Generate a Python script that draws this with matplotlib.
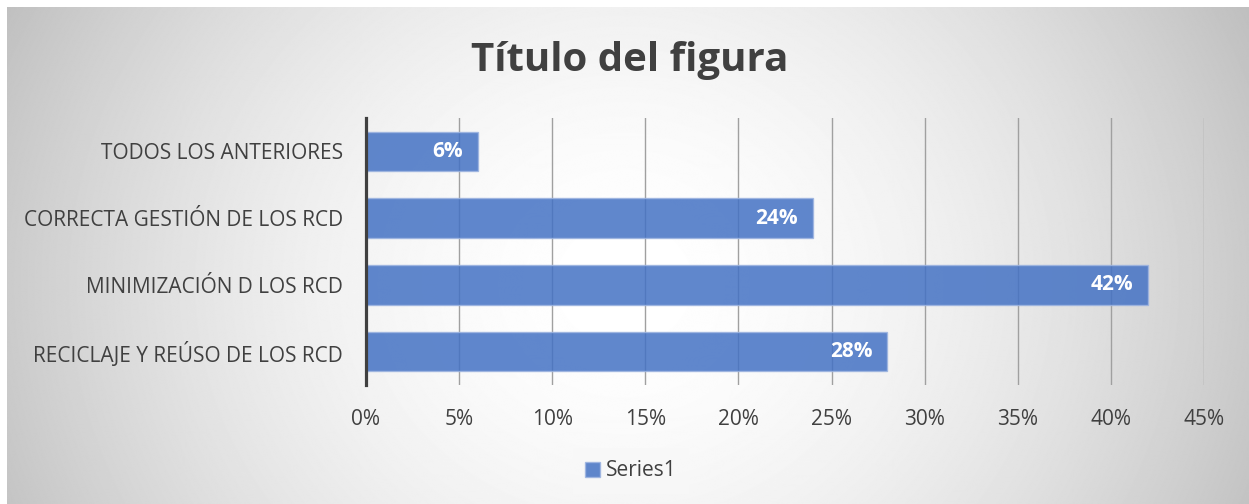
import numpy as np
import matplotlib
matplotlib.use("Agg")
from matplotlib import pyplot as plt
from matplotlib.patches import Patch

categories = ["RECICLAJE Y REÚSO DE LOS RCD", "MINIMIZACIÓN D LOS RCD",
              "CORRECTA GESTIÓN DE LOS RCD", "TODOS LOS ANTERIORES"]
values = [0.28, 0.42, 0.24, 0.06]
xticks = [0, 0.05, 0.10, 0.15, 0.20, 0.25, 0.30, 0.35, 0.40, 0.45]

plt.rcParams['font.family'] = ['Open Sans', 'DejaVu Sans']
text_col = "#404040"
bar_col = "#4472C4"

W, H = 1249, 504
fig = plt.figure(figsize=(W / 100, H / 100), dpi=100)

# radial gradient background
bg = fig.add_axes([7 / W, 0, 1 - 7 / W, 1 - 7 / H], zorder=-10)
yy, xx = np.mgrid[0:H, 0:W]
r = np.sqrt((xx - 620) ** 2 + ((yy - 280) * 1.1) ** 2) / 680
gray = 1 - 0.24 * np.clip(r, 0, 1.2) ** 1.8
bg.imshow(gray, cmap="gray", vmin=0, vmax=1, aspect="auto", extent=[0, 1, 0, 1])
bg.axis("off")

ax = fig.add_axes([366 / W, 1 - 385 / H, (1204 - 366) / W, (385 - 118) / H])
ax.patch.set_alpha(0)
ypos = np.arange(len(categories))
ax.barh(ypos, values, height=0.59, color=bar_col, alpha=0.85,
        edgecolor="#9db4e0", linewidth=1, zorder=2)
for y, v in zip(ypos, values):
    ax.text(v - 0.008, y, f"{v:.0%}", ha="right", va="center", color="white",
            fontsize=15, fontweight="bold", zorder=3)

ax.set_xlim(0, 0.45)
ax.set_ylim(-0.5, 3.5)
ax.set_xticks(xticks)
ax.set_xticklabels([f"{t:.0%}" for t in xticks])
ax.set_yticks(ypos)
ax.set_yticklabels(categories)
ax.tick_params(axis="both", length=0, labelsize=15, labelcolor=text_col)
ax.tick_params(axis="x", pad=17)
ax.tick_params(axis="y", pad=16.5)
ax.grid(axis="x", color="#a0a0a0", linewidth=1, zorder=1)
for s in ["top", "right", "bottom"]:
    ax.spines[s].set_visible(False)
ax.spines["left"].set_color("#404040")
ax.spines["left"].set_linewidth(2.3)
ax.spines["left"].set_zorder(4)

fig.text(630 / W, 1 - 60 / H, "Título del figura", ha="center", va="center",
         fontsize=29, fontweight="bold", color=text_col)

leg = fig.legend(handles=[Patch(facecolor=bar_col, alpha=0.85, edgecolor="#9db4e0")],
                 labels=["Series1"], loc="center", bbox_to_anchor=(631 / W, 1 - 471 / H),
                 frameon=True, fancybox=False, handlelength=0.7, handleheight=0.7,
                 handletextpad=0.3, fontsize=15, borderpad=0.6)
leg.get_frame().set_facecolor("#f8f8f8")
leg.get_frame().set_edgecolor("none")
for t in leg.get_texts():
    t.set_color(text_col)

fig.savefig("out.png", dpi=100)
